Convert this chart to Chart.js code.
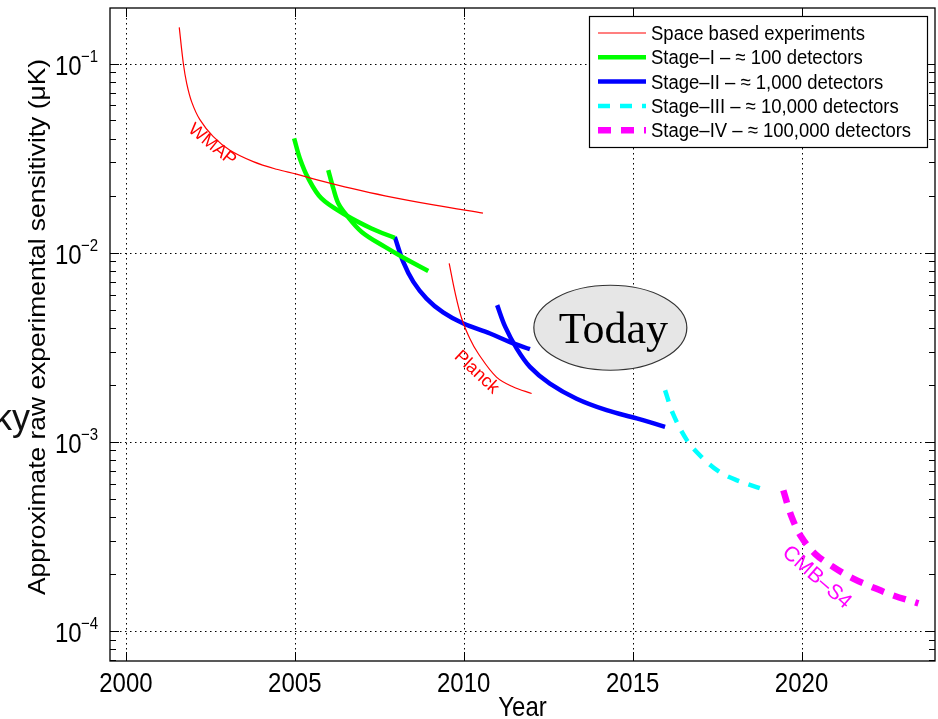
<!DOCTYPE html>
<html>
<head>
<meta charset="utf-8">
<title>Sensibilité expérimentale</title>
<script src="https://cdn.jsdelivr.net/npm/chart.js@4.4.1/dist/chart.umd.min.js"></script>
<style>
    html, body { margin: 0; padding: 0; background: #fff; }
    canvas { display: block; }
</style>
</head>
<body>
<canvas id="sensibilite" width="938" height="719"></canvas>
<script>
// --------------------------- Données ------------------------------------------------------
const wmapAnnees = [2001.58, 2001.70, 2001.80, 2001.95, 2002.19, 2002.58, 2003.08, 2003.77, 2004.46, 2005.05, 2005.69, 2006.68, 2007.67, 2009.15, 2010.57];
const wmapSens = [0.1553, 0.1003, 0.0786, 0.0625, 0.0505, 0.0412, 0.0348, 0.0303, 0.0276, 0.0260, 0.0242, 0.02186, 0.01998, 0.01783, 0.01618];

const planckAnnees = [2009.57, 2009.74, 2009.94, 2010.18, 2010.43, 2010.97, 2011.47, 2012.01];
const planckSens = [0.00877, 0.0062, 0.00449, 0.00352, 0.00293, 0.0022, 0.00195, 0.0018];

const stage1aAnnees = [2004.98, 2005.15, 2005.40, 2005.79, 2006.48, 2007.27, 2007.96];
const stage1aSens = [0.0402, 0.0315, 0.0247, 0.01935, 0.01592, 0.01343, 0.01197];

const stage1bAnnees = [2005.99, 2006.14, 2006.29, 2006.53, 2006.98, 2007.67, 2008.26, 2008.95];
const stage1bSens = [0.0273, 0.02186, 0.0182, 0.0158, 0.01288, 0.01073, 0.00932, 0.00801];

const stage2aAnnees = [2007.96, 2008.21, 2008.51, 2008.90, 2009.39, 2009.99, 2010.78, 2011.37, 2011.96];
const stage2aSens = [0.01212, 0.00894, 0.00701, 0.00572, 0.00483, 0.00422, 0.00374, 0.00337, 0.00309];

const stage2bAnnees = [2010.99, 2011.23, 2011.57, 2011.96, 2012.55, 2013.34, 2014.23, 2015.12, 2015.96];
const stage2bSens = [0.00528, 0.00405, 0.00311, 0.00249, 0.00203, 0.00169, 0.00147, 0.00133, 0.0012];

const stage3Annees = [2015.96, 2016.19, 2016.61, 2017.05, 2017.59, 2018.09, 2018.77];
const stage3Sens = [0.001874, 0.001415, 0.001018, 0.000828, 0.00069, 0.000626, 0.000568];

const stage4Annees = [2019.46, 2019.71, 2020.00, 2020.40, 2020.94, 2021.53, 2022.12, 2022.72, 2023.46];
const stage4Sens = [0.000554, 0.0004, 0.000313, 0.000256, 0.000218, 0.000189, 0.00017, 0.000154, 0.00014];

const xTicks = [2000, 2005, 2010, 2015, 2020];
const yTicks = [1e-4, 1e-3, 1e-2, 1e-1];
const yTickExposants = ['\u22124', '\u22123', '\u22122', '\u22121'];

const legendeLabels = [
    'Space based experiments',
    'Stage\u2013I \u2013 \u2248 100 detectors',
    'Stage\u2013II \u2013 \u2248 1,000 detectors',
    'Stage\u2013III \u2013 \u2248 10,000 detectors',
    'Stage\u2013IV \u2013 \u2248 100,000 detectors'
];

// --------------------------- Styles -----------------------------------
const SANS = '"Liberation Sans", Arial, Helvetica, sans-serif';
const styles = [
    { color: '#ff0000', width: 1.2, dash: [] },
    { color: '#00ff00', width: 4.5, dash: [] },
    { color: '#0000ff', width: 4.5, dash: [] },
    { color: '#00ffff', width: 4.5, dash: [12, 10] },
    { color: '#ff00ff', width: 6.5, dash: [13, 10] }
];

function serie(annees, valeurs) {
    return annees.map((a, i) => ({ x: a, y: valeurs[i] }));
}

function dataset(label, annees, valeurs, style) {
    return {
        label: label,
        data: serie(annees, valeurs),
        borderColor: style.color,
        borderWidth: style.width,
        borderDash: style.dash,
        borderCapStyle: 'butt',
        pointRadius: 0,
        fill: false,
        tension: 0.35,
        cubicInterpolationMode: 'default'
    };
}

// ---------------------------- Outils de dessin ------------------------------------
function texte(ctx, str, x, y, opts) {
    ctx.save();
    ctx.translate(x, y);
    if (opts.rotation) ctx.rotate(opts.rotation);
    ctx.scale(opts.sx || 1, opts.sy || 1);
    ctx.font = opts.font;
    ctx.fillStyle = opts.color || '#000';
    ctx.textAlign = opts.align || 'left';
    ctx.textBaseline = opts.baseline || 'alphabetic';
    ctx.fillText(str, 0, 0);
    ctx.restore();
}

function dessinerGrille(chart) {
    const { ctx, chartArea: a, scales } = chart;
    ctx.save();
    ctx.strokeStyle = '#000';
    ctx.lineWidth = 1;
    ctx.setLineDash([1.5, 3.5]);
    ctx.beginPath();
    xTicks.forEach(v => {
        const x = Math.round(scales.x.getPixelForValue(v)) + 0.5;
        ctx.moveTo(x, a.top);
        ctx.lineTo(x, a.bottom);
    });
    yTicks.forEach(v => {
        const y = Math.round(scales.y.getPixelForValue(v)) + 0.5;
        ctx.moveTo(a.left, y);
        ctx.lineTo(a.right, y);
    });
    ctx.stroke();
    ctx.restore();
}

function dessinerCadre(chart) {
    const { ctx, chartArea: a, scales } = chart;
    ctx.save();
    ctx.strokeStyle = '#000';
    ctx.lineWidth = 1.3;
    ctx.strokeRect(a.left, a.top, a.right - a.left, a.bottom - a.top);
    ctx.lineWidth = 1;
    ctx.beginPath();
    // graduations des années
    xTicks.forEach(v => {
        const x = Math.round(scales.x.getPixelForValue(v)) + 0.5;
        ctx.moveTo(x, a.bottom); ctx.lineTo(x, a.bottom - 9);
        ctx.moveTo(x, a.top); ctx.lineTo(x, a.top + 9);
    });
    // graduations log (majeures et mineures)
    for (let e = -5; e <= 0; e++) {
        for (let m = 1; m <= 9; m++) {
            const v = m * Math.pow(10, e);
            if (v < scales.y.min || v > scales.y.max) continue;
            const y = Math.round(scales.y.getPixelForValue(v)) + 0.5;
            const len = m === 1 ? 9 : 6;
            ctx.moveTo(a.left, y); ctx.lineTo(a.left + len, y);
            ctx.moveTo(a.right, y); ctx.lineTo(a.right - len, y);
        }
    }
    ctx.stroke();
    ctx.restore();
}

function dessinerAxes(chart) {
    const { ctx, chartArea: a, scales } = chart;
    xTicks.forEach(v => {
        texte(ctx, String(v), scales.x.getPixelForValue(v), 692,
            { font: '24px ' + SANS, align: 'center', sy: 1.12 });
    });
    yTicks.forEach((v, i) => {
        const y = scales.y.getPixelForValue(v);
        texte(ctx, '10', 55, y + 11, { font: '24px ' + SANS, sy: 1.12 });
        texte(ctx, yTickExposants[i], 81, y - 2, { font: '15px ' + SANS, sy: 1.12 });
    });
    texte(ctx, 'Year', (a.left + a.right) / 2, 716, { font: '24px ' + SANS, align: 'center', sy: 1.12 });
    texte(ctx, 'Approximate raw experimental sensitivity (\u03bcK)', 45, 327,
        { font: '24px ' + SANS, align: 'center', rotation: -Math.PI / 2, sx: 1.1 });
    // morceau de texte coupé sur le bord gauche
    texte(ctx, 'ky', -6, 430, { font: '36px ' + SANS, color: '#111' });
}

function dessinerAnnotations(chart) {
    const { ctx, scales } = chart;
    const px = v => scales.x.getPixelForValue(v);
    const py = v => scales.y.getPixelForValue(v);
    texte(ctx, 'WMAP', px(2002.55), py(0.0372),
        { font: '18px ' + SANS, color: '#ff0000', align: 'center', baseline: 'middle', rotation: 39 * Math.PI / 180 });
    texte(ctx, 'Planck', px(2010.38), py(0.002333),
        { font: '18px ' + SANS, color: '#ff0000', align: 'center', baseline: 'middle', rotation: 43 * Math.PI / 180 });
    texte(ctx, 'CMB\u2013S4', px(2020.45), py(0.000192),
        { font: '21px ' + SANS, color: '#ff00ff', align: 'center', baseline: 'middle', rotation: 41 * Math.PI / 180 });

    // bulle "Today"
    const cx = px(2014.34), cy = py(0.004011);
    ctx.save();
    ctx.beginPath();
    ctx.ellipse(cx, cy, 76.5, 42.5, 0, 0, Math.PI * 2);
    ctx.fillStyle = '#e6e6e6';
    ctx.fill();
    ctx.strokeStyle = '#333';
    ctx.lineWidth = 1.2;
    ctx.stroke();
    ctx.restore();
    texte(ctx, 'Today', cx + 3, cy + 15,
        { font: '44px "Liberation Serif", "Times New Roman", serif', align: 'center' });
}

function dessinerLegende(chart) {
    const ctx = chart.ctx;
    const box = { x: 589, y: 16, w: 338, h: 131 };
    ctx.save();
    ctx.fillStyle = '#fff';
    ctx.fillRect(box.x, box.y, box.w, box.h);
    ctx.strokeStyle = '#000';
    ctx.lineWidth = 1.2;
    ctx.strokeRect(box.x + 0.5, box.y + 0.5, box.w, box.h);
    legendeLabels.forEach((label, i) => {
        const st = styles[i];
        const y = 33 + i * 24.3;
        ctx.beginPath();
        ctx.strokeStyle = st.color;
        ctx.lineWidth = st.width;
        ctx.setLineDash(st.dash);
        ctx.lineCap = 'butt';
        ctx.moveTo(598, y);
        ctx.lineTo(646, y);
        ctx.stroke();
        ctx.setLineDash([]);
        texte(ctx, label, 651, y + 7, { font: '18.5px ' + SANS, sy: 1.12 });
    });
    ctx.restore();
}

const decorPlugin = {
    id: 'decor',
    beforeDatasetsDraw(chart) {
        dessinerGrille(chart);
    },
    afterDatasetsDraw(chart) {
        dessinerCadre(chart);
        dessinerAxes(chart);
        dessinerAnnotations(chart);
        dessinerLegende(chart);
    }
};

// ---------------------------- Graphique ------------------------------------
const ctx = document.getElementById('sensibilite');
new Chart(ctx, {
    type: 'line',
    data: {
        datasets: [
            dataset('WMAP', wmapAnnees, wmapSens, styles[0]),
            dataset('Planck', planckAnnees, planckSens, styles[0]),
            dataset('Stage-I a', stage1aAnnees, stage1aSens, styles[1]),
            dataset('Stage-I b', stage1bAnnees, stage1bSens, styles[1]),
            dataset('Stage-II a', stage2aAnnees, stage2aSens, styles[2]),
            dataset('Stage-II b', stage2bAnnees, stage2bSens, styles[2]),
            dataset('Stage-III', stage3Annees, stage3Sens, styles[3]),
            dataset('Stage-IV', stage4Annees, stage4Sens, styles[4])
        ]
    },
    options: {
        responsive: false,
        animation: false,
        devicePixelRatio: 1,
        layout: { padding: { left: 110, right: 3, top: 8, bottom: 58 } },
        plugins: {
            legend: { display: false },
            tooltip: { enabled: false }
        },
        scales: {
            x: { type: 'linear', min: 1999.53, max: 2023.95, display: false },
            y: { type: 'logarithmic', min: 6.94e-5, max: 0.1966, display: false }
        }
    },
    plugins: [decorPlugin]
});
</script>
</body>
</html>
